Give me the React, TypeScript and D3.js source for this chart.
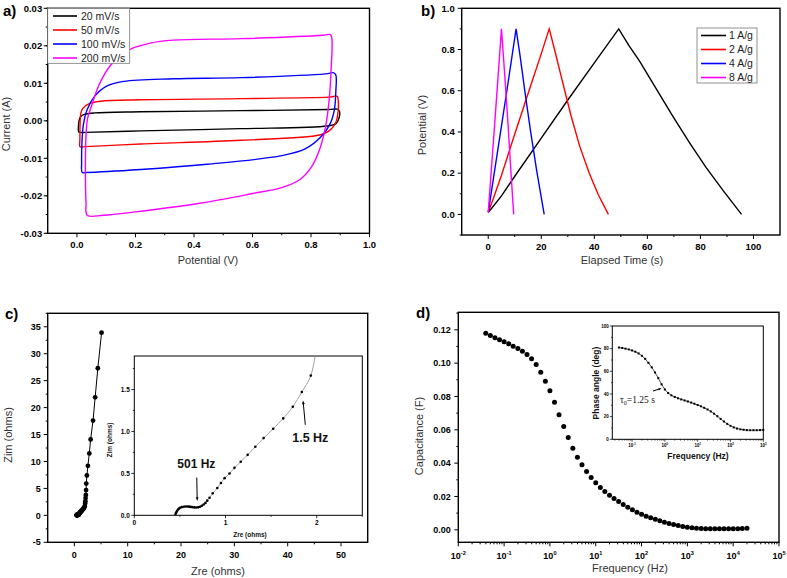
import React from "react";
import * as d3 from "d3";

type Pt = [number, number];

// a) cyclic voltammograms, [potential V, current A], traced round each loop
const cvRates = ["20 mV/s", "50 mV/s", "100 mV/s", "200 mV/s"];
const cvColors = ["#000000", "#ff0000", "#0000ff", "#ff00ff"];
const cv20: Pt[] = [
  [0.006, -0.003], [0.005, -0.0015], [0.008, 0.0003], [0.014, 0.0012], [0.025, 0.0017], [0.06, 0.0021],
  [0.218, 0.0024], [0.559, 0.0027], [0.86, 0.003], [0.89, 0.0031], [0.897, 0.0026], [0.896, 0.0008],
  [0.885, -0.0008], [0.855, -0.0014], [0.559, -0.0021], [0.218, -0.0027], [0.03, -0.0031], [0.012, -0.0031],
];
const cv50: Pt[] = [
  [0.01, -0.0069], [0.01, -0.005], [0.011, 0.0], [0.013, 0.002], [0.02, 0.0033], [0.04, 0.0045], [0.08, 0.0052],
  [0.218, 0.0056], [0.559, 0.0059], [0.86, 0.0063], [0.89, 0.0065], [0.893, 0.0055], [0.892, 0.002],
  [0.884, -0.0006], [0.862, -0.0027], [0.83, -0.0038], [0.559, -0.0052], [0.218, -0.0062], [0.03, -0.0069], [0.015, -0.007],
];
const cv100: Pt[] = [
  [0.018, -0.0138], [0.016, -0.011], [0.017, -0.006], [0.022, -0.001], [0.035, 0.003], [0.06, 0.0065], [0.1, 0.0092],
  [0.16, 0.0105], [0.33, 0.0112], [0.56, 0.0115], [0.85, 0.0125], [0.878, 0.0128], [0.885, 0.0122], [0.885, 0.008],
  [0.88, 0.003], [0.866, -0.0007], [0.835, -0.0042], [0.78, -0.0075], [0.7, -0.0093], [0.445, -0.0116],
  [0.218, -0.013], [0.03, -0.0138],
];
const cv200: Pt[] = [
  [0.035, -0.0252], [0.031, -0.022], [0.029, -0.015], [0.03, -0.006], [0.036, 0.0005], [0.05, 0.004], [0.075, 0.0095],
  [0.115, 0.0148], [0.17, 0.0186], [0.25, 0.0207], [0.33, 0.0215], [0.56, 0.0219], [0.84, 0.0228], [0.866, 0.023],
  [0.871, 0.0222], [0.869, 0.014], [0.862, 0.0055], [0.85, -0.0015], [0.83, -0.0075], [0.8, -0.0125], [0.76, -0.0158],
  [0.7, -0.0178], [0.6, -0.0194], [0.42, -0.022], [0.2, -0.0243], [0.09, -0.0252],
];
const aYTicks = [-0.03, -0.02, -0.01, 0, 0.01, 0.02, 0.03];
const aXTicks = [0, 0.2, 0.4, 0.6, 0.8, 1.0];

// b) galvanostatic charge/discharge, [time s, potential V]
const gcdRates = ["1 A/g", "2 A/g", "4 A/g", "8 A/g"];
const gcd1: Pt[] = [
  [0, 0.01], [1, 0.025], [5, 0.09], [10, 0.185], [20, 0.37], [30, 0.555], [40, 0.735], [49.2, 0.9],
  [53, 0.82], [57, 0.745], [63.3, 0.61], [69.5, 0.478], [75.8, 0.35], [82.1, 0.228], [88.8, 0.112], [95.5, 0.0],
];
const gcd2: Pt[] = [
  [0, 0.01], [2, 0.08], [5, 0.19], [10, 0.39], [15, 0.585], [20, 0.78], [23, 0.9], [25, 0.8], [27.5, 0.67],
  [31.2, 0.48], [34.5, 0.33], [38.1, 0.2], [41.5, 0.095], [45.3, 0.0],
];
const gcd4: Pt[] = [
  [0, 0.01], [2.5, 0.22], [5, 0.43], [7.5, 0.64], [10.5, 0.9], [12, 0.77], [14, 0.58], [16, 0.4], [18.3, 0.21], [21.1, 0.0],
];
const gcd8: Pt[] = [[0, 0.01], [2.5, 0.45], [5, 0.9], [6.2, 0.68], [7.5, 0.43], [8.5, 0.22], [9.6, 0.0]];
const bYTicks = [0, 0.2, 0.4, 0.6, 0.8, 1.0];
const bXTicks = [0, 20, 40, 60, 80, 100];

// c) Nyquist plot, high to low frequency
const zre = [
  0.45, 0.455, 0.46, 0.47, 0.48, 0.49, 0.5, 0.52, 0.54, 0.56, 0.58, 0.6, 0.62, 0.64, 0.66, 0.68, 0.7, 0.72, 0.74,
  0.76, 0.78, 0.8, 0.825, 0.86, 0.91, 0.95, 0.99, 1.044, 1.098, 1.167, 1.243, 1.327, 1.418, 1.523, 1.633, 1.738,
  1.837, 1.935, 2.02, 2.06, 2.1, 2.15, 2.2, 2.23, 2.35, 2.54, 2.8, 3.05, 3.5, 3.9, 4.4, 5.1,
];
const zim = [
  0, 0.02, 0.035, 0.055, 0.07, 0.08, 0.088, 0.097, 0.102, 0.105, 0.105, 0.103, 0.1, 0.097, 0.094, 0.093, 0.095,
  0.102, 0.113, 0.128, 0.148, 0.175, 0.21, 0.262, 0.325, 0.385, 0.443, 0.498, 0.566, 0.638, 0.721, 0.817, 0.921,
  1.032, 1.156, 1.295, 1.471, 1.666, 2.2, 2.6, 3.2, 3.8, 4.7, 5.9, 7.4, 9.2, 11.5, 14.1, 17.6, 21.9, 27.3, 33.9,
];
const cYTicks = [-5, 0, 5, 10, 15, 20, 25, 30, 35];
const cXTicks = [0, 10, 20, 30, 40, 50];
const ciYTicks = [0, 0.5, 1.0, 1.5];
const ciXTicks = [0, 1, 2];

// d) capacitance and phase angle vs frequency
const freq = [
  0.0398, 0.0501, 0.0631, 0.0794, 0.1, 0.126, 0.158, 0.2, 0.251, 0.316, 0.398, 0.501, 0.631, 0.794,
  1, 1.26, 1.58, 2, 2.51, 3.16, 3.98, 5.01, 6.31, 7.94, 10, 12.6, 15.8, 20, 25.1, 31.6, 39.8, 50.1, 63.1, 79.4,
  100, 126, 158, 200, 251, 316, 398, 501, 631, 794, 1000, 1260, 1580, 2000, 2510, 3160, 3980, 5010, 6310, 7940,
  10000, 12600, 15800, 20000,
];
const capacitance = [
  0.118, 0.1166, 0.1152, 0.114, 0.1128, 0.1116, 0.1102, 0.1088, 0.1072, 0.1052, 0.1026, 0.0992, 0.0946, 0.0892,
  0.0834, 0.0766, 0.069, 0.062, 0.0554, 0.049, 0.0436, 0.039, 0.035, 0.0314, 0.0282, 0.0254, 0.023, 0.0208,
  0.0188, 0.017, 0.0152, 0.0136, 0.012, 0.0106, 0.0094, 0.0082, 0.0072, 0.0064, 0.0054, 0.0046, 0.0038, 0.0032,
  0.0026, 0.002, 0.0016, 0.0012, 0.001, 0.0008, 0.0006, 0.0006, 0.0006, 0.0006, 0.0006, 0.0006, 0.0006, 0.0007,
  0.0008, 0.0009,
];
const phase = [
  81.0, 80.6, 80.0, 79.3, 78.4, 77.3, 75.8, 73.7, 71.0, 67.5, 63.5, 59.0, 54.0, 48.5, 44.0, 40.8, 38.8, 37.4,
  36.2, 35.2, 34.3, 33.4, 32.4, 31.4, 30.3, 29.1, 27.8, 26.3, 24.6, 22.6, 20.4, 18.0, 15.7, 13.6, 11.9, 10.5,
  9.5, 8.8, 8.4, 8.1, 8.0, 8.0, 8.0, 8.1, 8.3,
];
const dYTicks = [0, 0.02, 0.04, 0.06, 0.08, 0.1, 0.12];
const dXExp = [-2, -1, 0, 1, 2, 3, 4, 5];
const diYTicks = [0, 20, 40, 60, 80, 100];
const diXExp = [-1, 0, 1, 2, 3];

const SANS = "'Liberation Sans', Arial, sans-serif";
const SERIF = "'Liberation Serif', 'Times New Roman', serif";
const ink = "#000";

type Sc = (v: number) => number;

const fix = (n: number) => (v: number) => (Math.round(v * 10 ** n) / 10 ** n).toFixed(n);
const minorLin = (lo: number, hi: number, step: number) => d3.range(lo, hi + step / 2, step);
const minorLog = (e0: number, e1: number) =>
  d3.range(e0, e1).flatMap((k) => d3.range(2, 10).map((m) => m * Math.pow(10, k)));

function Frame(p: { sx: Sc; sy: Sc; x: [number, number]; y: [number, number]; w?: number; fill?: string }) {
  const x0 = p.sx(p.x[0]), x1 = p.sx(p.x[1]), y0 = p.sy(p.y[1]), y1 = p.sy(p.y[0]);
  return <rect x={x0} y={y0} width={x1 - x0} height={y1 - y0} fill={p.fill ?? "none"} stroke={ink} strokeWidth={p.w ?? 1.4} />;
}

function YAxis(p: {
  s: Sc; x: number; major: number[]; minor: number[]; label: (v: number) => React.ReactNode;
  fs: number; tl?: number; gap?: number; sw?: number;
}) {
  const tl = p.tl ?? 4, gap = p.gap ?? 2;
  return (
    <g>
      {p.minor.map((v, i) => (
        <line key={"m" + i} x1={p.x} x2={p.x - tl / 2} y1={p.s(v)} y2={p.s(v)} stroke={ink} strokeWidth={p.sw ?? 1} />
      ))}
      {p.major.map((v, i) => (
        <g key={"M" + i}>
          <line x1={p.x} x2={p.x - tl} y1={p.s(v)} y2={p.s(v)} stroke={ink} strokeWidth={p.sw ?? 1} />
          <text x={p.x - tl - gap} y={p.s(v)} dy="0.35em" textAnchor="end" fontSize={p.fs} fontWeight="bold" fontFamily={SANS}>
            {p.label(v)}
          </text>
        </g>
      ))}
    </g>
  );
}

function XAxis(p: {
  s: Sc; y: number; major: number[]; minor: number[]; label: (v: number) => React.ReactNode;
  fs: number; ly: number; tl?: number; sw?: number;
}) {
  const tl = p.tl ?? 4;
  return (
    <g>
      {p.minor.map((v, i) => (
        <line key={"m" + i} y1={p.y} y2={p.y + tl / 2} x1={p.s(v)} x2={p.s(v)} stroke={ink} strokeWidth={p.sw ?? 1} />
      ))}
      {p.major.map((v, i) => (
        <g key={"M" + i}>
          <line y1={p.y} y2={p.y + tl} x1={p.s(v)} x2={p.s(v)} stroke={ink} strokeWidth={p.sw ?? 1} />
          <text x={p.s(v)} y={p.ly} textAnchor="middle" fontSize={p.fs} fontWeight="bold" fontFamily={SANS}>
            {p.label(v)}
          </text>
        </g>
      ))}
    </g>
  );
}

const pow10 = (fs: number) => (v: number) => {
  const e = Math.round(Math.log10(v));
  return (
    <>
      10<tspan dy={-fs * 0.42} fontSize={fs * 0.62}>{e}</tspan>
    </>
  );
};

function Title(p: { x: number; y: number; text: string; rot?: boolean; fs?: number; bold?: boolean; fill?: string }) {
  return (
    <text
      x={p.x} y={p.y} textAnchor="middle" fontFamily={SANS} fontSize={p.fs ?? 11}
      fontWeight={p.bold ? "bold" : "normal"} fill={p.fill ?? "#333"}
      transform={p.rot ? `rotate(-90 ${p.x} ${p.y})` : undefined}
    >
      {p.text}
    </text>
  );
}

function PanelLabel({ x, y, t }: { x: number; y: number; t: string }) {
  return <text x={x} y={y} fontFamily={SANS} fontSize={15} fontWeight="bold">{t}</text>;
}

function Arrow({ x1, y1, x2, y2, head = 4 }: { x1: number; y1: number; x2: number; y2: number; head?: number }) {
  const a = Math.atan2(y2 - y1, x2 - x1);
  const p1 = [x2 - head * Math.cos(a - 0.35), y2 - head * Math.sin(a - 0.35)];
  const p2 = [x2 - head * Math.cos(a + 0.35), y2 - head * Math.sin(a + 0.35)];
  return (
    <g>
      <line x1={x1} y1={y1} x2={x2 - Math.cos(a) * head * 0.7} y2={y2 - Math.sin(a) * head * 0.7} stroke={ink} strokeWidth={1} />
      <path d={`M${x2},${y2}L${p1[0]},${p1[1]}L${p2[0]},${p2[1]}Z`} fill={ink} />
    </g>
  );
}

function PanelA() {
  const sx = d3.scaleLinear().domain([-0.1, 1.0]).range([47.7, 369.5]);
  const sy = d3.scaleLinear().domain([-0.03, 0.03]).range([233.3, 8.3]);
  const loop = d3.line<Pt>().x((d) => sx(d[0])).y((d) => sy(d[1])).curve(d3.curveCatmullRomClosed.alpha(0.5));
  const loops = [cv20, cv50, cv100, cv200];
  return (
    <g>
      {loops.map((l, i) => (
        <path key={i} d={loop(l) ?? ""} fill="none" stroke={cvColors[i]} strokeWidth={1.4} />
      ))}
      <Frame sx={sx} sy={sy} x={[-0.1, 1.0]} y={[-0.03, 0.03]} />
      <YAxis s={sy} x={sx(-0.1)} major={aYTicks} minor={minorLin(-0.03, 0.03, 0.005)} label={fix(2)} fs={9.5} gap={1.5} />
      <XAxis s={sx} y={sy(-0.03)} major={aXTicks} minor={minorLin(0.1, 0.9, 0.2)} label={fix(1)} fs={9.5} ly={248} />
      <g>
        <rect x={sx(-0.1)} y={sy(0.03)} width={82} height={55} fill="#fff" stroke="#777" strokeWidth={0.8} />
        {cvRates.map((r, i) => (
          <g key={r}>
            <line x1={53} x2={77} y1={16 + i * 14} y2={16 + i * 14} stroke={cvColors[i]} strokeWidth={1.6} />
            <text x={81} y={16 + i * 14} dy="0.36em" fontFamily={SANS} fontSize={10.5} fill="#222">{r}</text>
          </g>
        ))}
      </g>
      <Title x={208} y={264} text="Potential (V)" />
      <Title x={10} y={124} text="Current (A)" rot />
      <PanelLabel x={3} y={16} t="a)" />
    </g>
  );
}

function PanelB() {
  const sx = d3.scaleLinear().domain([-10, 110]).range([461.7, 780]);
  const sy = d3.scaleLinear().domain([-0.1, 1.0]).range([235, 8.3]);
  const line = d3.line<Pt>().x((d) => sx(d[0])).y((d) => sy(d[1]));
  const series = [gcd1, gcd2, gcd4, gcd8];
  return (
    <g>
      {series.map((s, i) => (
        <path key={i} d={line(s) ?? ""} fill="none" stroke={cvColors[i]} strokeWidth={1.4} />
      ))}
      <Frame sx={sx} sy={sy} x={[-10, 110]} y={[-0.1, 1.0]} />
      <YAxis s={sy} x={sx(-10)} major={bYTicks} minor={minorLin(-0.1, 0.9, 0.2)} label={fix(1)} fs={9.5} gap={3} />
      <XAxis s={sx} y={sy(-0.1)} major={bXTicks} minor={minorLin(10, 90, 20)} label={(v) => String(v)} fs={9.5} ly={250} />
      <g>
        <rect x={697} y={28} width={60} height={55} fill="#fff" stroke="#777" strokeWidth={0.8} />
        {gcdRates.map((r, i) => (
          <g key={r}>
            <line x1={701} x2={726} y1={35.5 + i * 14} y2={35.5 + i * 14} stroke={cvColors[i]} strokeWidth={1.6} />
            <text x={729} y={35.5 + i * 14} dy="0.36em" fontFamily={SANS} fontSize={10.5} fill="#222">{r}</text>
          </g>
        ))}
      </g>
      <Title x={622} y={264} text="Elapsed Time (s)" />
      <Title x={426} y={125} text="Potential (V)" rot />
      <PanelLabel x={421} y={16} t="b)" />
    </g>
  );
}

function PanelC() {
  const sx = d3.scaleLinear().domain([-5, 55]).range([47.7, 367.7]);
  const sy = d3.scaleLinear().domain([-5, 37.5]).range([542.3, 313.3]);
  const ix = d3.scaleLinear().domain([0, 2.5]).range([134.3, 362.3]);
  const iy = d3.scaleLinear().domain([0, 1.9]).range([515.3, 356]);
  const pts: Pt[] = zre.map((x, i) => [x, zim[i]]);
  const main = d3.line<Pt>().x((d) => sx(d[0])).y((d) => sy(d[1]));
  const inset = d3.line<Pt>().x((d) => ix(d[0])).y((d) => iy(d[1])).curve(d3.curveCatmullRom);
  return (
    <g>
      <path d={main(pts) ?? ""} fill="none" stroke={ink} strokeWidth={1} />
      {pts.map((d, i) => (
        <circle key={i} cx={sx(d[0])} cy={sy(d[1])} r={2.4} fill={ink} />
      ))}
      <Frame sx={sx} sy={sy} x={[-5, 55]} y={[-5, 37.5]} />
      <YAxis s={sy} x={sx(-5)} major={cYTicks} minor={minorLin(-2.5, 37.5, 5)} label={(v) => String(v)} fs={9} gap={3} />
      <XAxis s={sx} y={sy(-5)} major={cXTicks} minor={minorLin(-5, 55, 5).filter((v) => v % 10 !== 0 && v > -5 && v < 55)} label={(v) => String(v)} fs={9} ly={558} />
      <Title x={218} y={575} text="Zre (ohms)" />
      <Title x={11.5} y={435} text="Zim (ohms)" rot />
      <PanelLabel x={5} y={319} t="c)" />

      {/* inset */}
      <defs>
        <clipPath id="clipC">
          <rect x={ix(0)} y={iy(1.9)} width={ix(2.5) - ix(0)} height={iy(0) - iy(1.9)} />
        </clipPath>
      </defs>
      <Frame sx={ix} sy={iy} x={[0, 2.5]} y={[0, 1.9]} w={1} fill="#fff" />
      <g clipPath="url(#clipC)">
        <path d={inset(pts) ?? ""} fill="none" stroke="#8a8a8a" strokeWidth={0.8} />
        {pts.map((d, i) => (
          <circle key={i} cx={ix(d[0])} cy={iy(d[1])} r={1.3} fill={ink} />
        ))}
      </g>
      <YAxis s={iy} x={ix(0)} major={ciYTicks} minor={minorLin(0.25, 1.75, 0.5)} label={fix(1)} fs={6.5} tl={3} gap={1.5} sw={0.8} />
      <XAxis s={ix} y={iy(0)} major={ciXTicks} minor={minorLin(0.5, 2.5, 1)} label={(v) => String(v)} fs={6.5} ly={525} tl={3} sw={0.8} />
      <Title x={250} y={537} text="Zre (ohms)" fs={6.5} bold fill="#111" />
      <Title x={111.5} y={440} text="Zim (ohms)" fs={6.5} bold rot fill="#111" />
      <Arrow x1={ix(0.685)} y1={iy(0.45)} x2={ix(0.69)} y2={iy(0.17)} />
      <text x={ix(0.68)} y={iy(0.57)} textAnchor="middle" fontFamily={SANS} fontSize={12} fontWeight="bold" fill="#111">501 Hz</text>
      <Arrow x1={ix(1.875)} y1={iy(1.08)} x2={ix(1.85)} y2={iy(1.37)} />
      <text x={ix(1.93)} y={iy(0.88)} textAnchor="middle" fontFamily={SANS} fontSize={12.5} fontWeight="bold" fill="#111">1.5 Hz</text>
    </g>
  );
}

function PanelD() {
  const sx = d3.scaleLog().domain([1e-2, 1e5]).range([458.3, 779]);
  const sy = d3.scaleLinear().domain([-0.0075, 0.1305]).range([542.3, 312.3]);
  const ix = d3.scaleLog().domain([0.025, 1000]).range([612.3, 763.3]);
  const iy = d3.scaleLinear().domain([0, 100]).range([439.3, 326]);
  const ph: Pt[] = phase.map((p, i) => [freq[i], p]);
  const pline = d3.line<Pt>().x((d) => ix(d[0])).y((d) => iy(d[1]));
  return (
    <g>
      {freq.map((f, i) => (
        <circle key={i} cx={sx(f)} cy={sy(capacitance[i])} r={2.5} fill={ink} />
      ))}
      <Frame sx={sx} sy={sy} x={[1e-2, 1e5]} y={[-0.0075, 0.1305]} />
      <YAxis s={sy} x={sx(1e-2)} major={dYTicks} minor={minorLin(0.01, 0.13, 0.02)} label={fix(2)} fs={9} gap={3.5} />
      <XAxis s={sx} y={sy(-0.0075)} major={dXExp.map((e) => Math.pow(10, e))} minor={minorLog(-2, 5)} label={pow10(9)} fs={9} ly={558.5} />
      <Title x={630} y={571.5} text="Frequency (Hz)" />
      <Title x={423} y={436} text="Capacitance (F)" rot />
      <PanelLabel x={416} y={318} t="d)" />

      {/* inset */}
      <Frame sx={ix} sy={iy} x={[0.025, 1000]} y={[0, 100]} w={1} fill="#fff" />
      <path d={pline(ph) ?? ""} fill="none" stroke={ink} strokeWidth={0.7} />
      {ph.map((d, i) => (
        <rect key={i} x={ix(d[0]) - 1} y={iy(d[1]) - 1} width={2} height={2} fill={ink} />
      ))}
      <YAxis s={iy} x={ix(0.025)} major={diYTicks} minor={minorLin(10, 90, 20)} label={(v) => String(v)} fs={4.5} tl={2.5} gap={1} sw={0.7} />
      <XAxis s={ix} y={iy(0)} major={diXExp.map((e) => Math.pow(10, e))} minor={minorLog(-2, 3).filter((v) => v > 0.025)} label={pow10(4.5)} fs={4.5} ly={447} tl={2.5} sw={0.7} />
      <Title x={698} y={459} text="Frequency (Hz)" fs={8.5} bold fill="#111" />
      <Title x={598.5} y={383} text="Phase angle (deg)" fs={8.5} bold rot fill="#111" />
      <Arrow x1={653} y1={391} x2={ix(0.8)} y2={iy(45)} head={3.5} />
      <text x={620} y={402.7} fontFamily={SERIF} fontSize={9.5} fill="#111">
        τ<tspan dy={2.5} fontSize={6}>0</tspan><tspan dy={-2.5}>=1.25 s</tspan>
      </text>
    </g>
  );
}

export default function App() {
  return (
    <svg
      width={787}
      height={578}
      viewBox="0 0 787 578"
      style={{ position: "absolute", left: 0, top: 0, background: "#fff" }}
    >
      <rect width={787} height={578} fill="#fff" />
      <PanelA />
      <PanelB />
      <PanelC />
      <PanelD />
    </svg>
  );
}
